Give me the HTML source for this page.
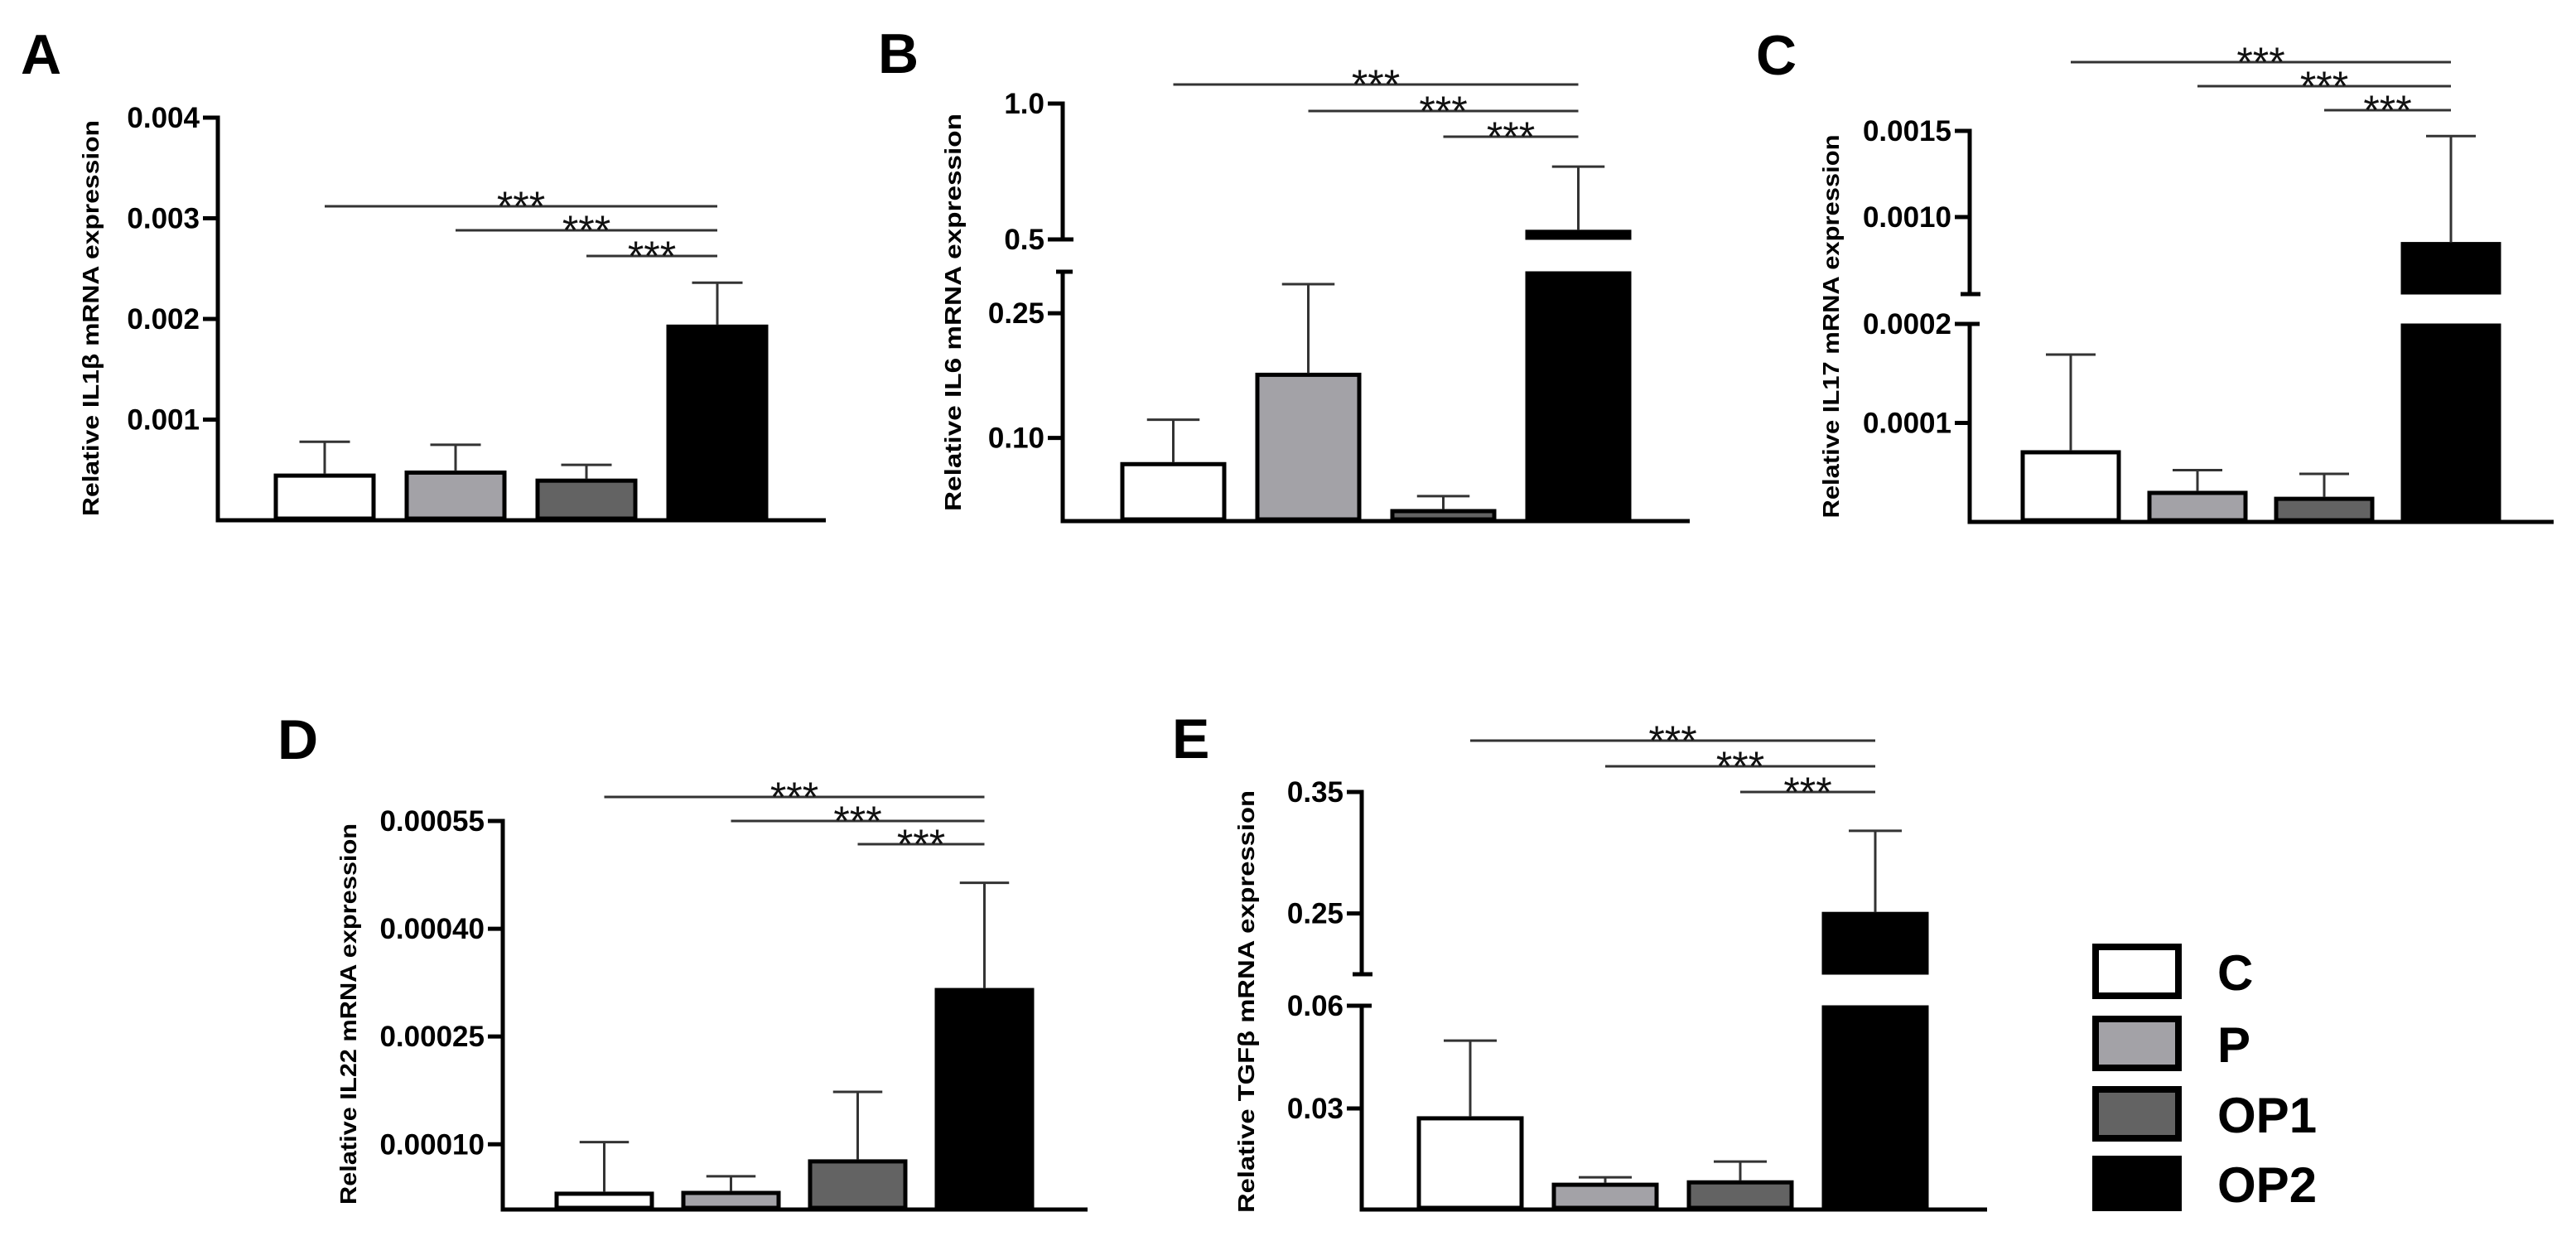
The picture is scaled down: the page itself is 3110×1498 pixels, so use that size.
<!DOCTYPE html>
<html><head><meta charset="utf-8">
<style>
html,body{margin:0;padding:0;background:#fff;}
svg{display:block;font-family:"Liberation Sans",Arial,sans-serif;}
</style></head>
<body>
<svg id="fig" width="3110" height="1498" viewBox="0 0 3110 1498" xmlns="http://www.w3.org/2000/svg">
<rect x="0" y="0" width="3110" height="1498" fill="#fff"/>
</svg>
<script>
// ---- data ----
const categories = ["C", "P", "OP1", "OP2"];
const fills = ["#ffffff", "#a3a2a7", "#636363", "#000000"];

const il1bValues = [0.00046, 0.00049, 0.00041, 0.00194];
const il1bErrors = [0.00032, 0.00026, 0.00014, 0.00042];
const il1bTicks = [0.001, 0.002, 0.003, 0.004];
const il1bTickLabels = ["0.001", "0.002", "0.003", "0.004"];

const il6Values = [0.0705, 0.178, 0.014, 0.534];
const il6Errors = [0.0515, 0.107, 0.016, 0.234];
const il6Ticks = [0.10, 0.25, 0.5, 1.0];
const il6TickLabels = ["0.10", "0.25", "0.5", "1.0"];

const il17Values = [0.000072, 0.000031, 0.000025, 0.000853];
const il17Errors = [0.000097, 0.0000213, 0.0000235, 0.000617];
const il17Ticks = [0.0001, 0.0002, 0.0010, 0.0015];
const il17TickLabels = ["0.0001", "0.0002", "0.0010", "0.0015"];

const il22Values = [0.0000335, 0.0000346, 0.0000785, 0.000317];
const il22Errors = [0.0000695, 0.0000208, 0.0000945, 0.000147];
const il22Ticks = [0.00010, 0.00025, 0.00040, 0.00055];
const il22TickLabels = ["0.00010", "0.00025", "0.00040", "0.00055"];

const tgfbValues = [0.0276, 0.0082, 0.0089, 0.251];
const tgfbErrors = [0.0222, 0.0017, 0.0056, 0.067];
const tgfbTicks = [0.03, 0.06, 0.25, 0.35];
const tgfbTickLabels = ["0.03", "0.06", "0.25", "0.35"];

// ---- layout ----
const NS = "http://www.w3.org/2000/svg";
const svg = document.getElementById("fig");
function mk(tag, attrs, parent) {
  const e = document.createElementNS(NS, tag);
  for (const k in attrs) e.setAttribute(k, attrs[k]);
  (parent || svg).appendChild(e);
  return e;
}

const panels = [
  {id:"a", letter:"A", lx:25, ly:89, title:"Relative IL1\u03b2 mRNA expression", tx:109, ty:384, tlen:478,
   axisX:263, baseY:628, barLeft:331, barW:122, pitch:158, baseEnd:997,
   segs:[{v0:0, v1:0.004, y0:628, y1:142}],
   values:il1bValues, errors:il1bErrors, ticks:il1bTicks, tickLabels:il1bTickLabels, sigY:[249,278,309]},
  {id:"b", letter:"B", lx:1060, ly:88, title:"Relative IL6 mRNA expression", tx:1150, ty:377, tlen:480,
   axisX:1283, baseY:629, barLeft:1353, barW:127, pitch:163, baseEnd:2040,
   segs:[{v0:0, v1:0.3, y0:629, y1:328},{v0:0.5, v1:1.0, y0:289, y1:125}],
   values:il6Values, errors:il6Errors, ticks:il6Ticks, tickLabels:il6TickLabels, sigY:[102,134,165]},
  {id:"c", letter:"C", lx:2120, ly:90, title:"Relative IL17 mRNA expression", tx:2210, ty:394, tlen:463,
   axisX:2378, baseY:630, barLeft:2440, barW:120, pitch:153, baseEnd:3083,
   segs:[{v0:0, v1:0.0002, y0:630, y1:391},{v0:0.000553, v1:0.0015, y0:355, y1:158}],
   values:il17Values, errors:il17Errors, ticks:il17Ticks, tickLabels:il17TickLabels, sigY:[75,104,133]},
  {id:"d", letter:"D", lx:335, ly:916, title:"Relative IL22 mRNA expression", tx:420, ty:1224, tlen:460,
   axisX:607, baseY:1460, barLeft:670, barW:119, pitch:153, baseEnd:1313,
   segs:[{v0:0.0000092, v1:0.00055, y0:1460, y1:991}],
   values:il22Values, errors:il22Errors, ticks:il22Ticks, tickLabels:il22TickLabels, sigY:[962,991,1019]},
  {id:"e", letter:"E", lx:1415, ly:915, title:"Relative TGF\u03b2 mRNA expression", tx:1504, ty:1209, tlen:510,
   axisX:1644, baseY:1460, barLeft:1711, barW:128, pitch:163, baseEnd:2399,
   segs:[{v0:0, v1:0.06, y0:1462, y1:1214},{v0:0.2, v1:0.35, y0:1176, y1:956}],
   values:tgfbValues, errors:tgfbErrors, ticks:tgfbTicks, tickLabels:tgfbTickLabels, sigY:[894,925,956]}
];

function segFor(p, v) {
  let s = p.segs[0];
  for (const sg of p.segs) if (v >= sg.v0) s = sg;
  return s;
}
function yOf(p, v) {
  const s = segFor(p, v);
  return s.y0 + (v - s.v0) / (s.v1 - s.v0) * (s.y1 - s.y0);
}

panels.forEach(p => {
  const g = mk("g", {});
  
  

  const L = mk("text", {x:p.lx, y:p.ly, "font-size":68, "font-weight":"bold", fill:"#000"}, g);
  L.textContent = p.letter;
  
  

  const T = mk("text", {x:0, y:0, "font-size":28, "font-weight":"bold", fill:"#000", "text-anchor":"middle",
    textLength:p.tlen, lengthAdjust:"spacingAndGlyphs",
    transform:"translate(" + (p.tx + 10) + "," + p.ty + ") rotate(-90)"}, g);
  T.textContent = p.title;
  
  

  p.segs.forEach((s, i) => {
    const yb = (i === 0) ? p.baseY : s.y0;
    const ax = mk("line", {x1:p.axisX, x2:p.axisX, y1:yb + 2.5, y2:s.y1 - 2.5, stroke:"#000", "stroke-width":5}, g);
    
    
    if (p.segs.length > 1) {
      if (i === 0) {
        const c = mk("line", {x1:p.axisX - 8, x2:p.axisX + 12, y1:s.y1, y2:s.y1, stroke:"#000", "stroke-width":5}, g);
        
        
      } else {
        const c = mk("line", {x1:p.axisX - 11, x2:p.axisX + 13, y1:s.y0, y2:s.y0, stroke:"#000", "stroke-width":5}, g);
        
        
      }
    }
  });
  const base = mk("line", {x1:p.axisX - 2.5, x2:p.baseEnd, y1:p.baseY, y2:p.baseY, stroke:"#000", "stroke-width":5}, g);
  
  

  p.ticks.forEach((tv, i) => {
    const y = yOf(p, tv);
    const tk = mk("line", {x1:p.axisX - 18, x2:p.axisX, y1:y, y2:y, stroke:"#000", "stroke-width":5}, g);
    
    
    const tl = mk("text", {x:p.axisX - 22, y:y + 12, "font-size":35, "font-weight":"bold", "text-anchor":"end", fill:"#000"}, g);
    tl.textContent = p.tickLabels[i];
    
    
  });

  const centers = [];
  p.values.forEach((v, i) => {
    const x = p.barLeft + i * p.pitch;
    const cx = x + p.barW / 2;
    centers.push(cx);
    p.segs.forEach((s, si) => {
      if (v <= s.v0 && si > 0) return;
      const bottom = (si === 0) ? p.baseY : s.y0;
      const top = yOf(p, Math.min(v, s.v1));
      const r = mk("rect", {x:x + 2, y:top + 2, width:p.barW - 4, height:Math.max(0, bottom - top - 4),
        fill:fills[i], stroke:"#000", "stroke-width":5}, g);
      
      
    });
    const ytop = yOf(p, v);
    const yerr = yOf(p, v + p.errors[i]);
    const el = mk("line", {x1:cx, x2:cx, y1:ytop, y2:yerr, stroke:"#333", "stroke-width":3}, g);
    
    
    const cap = mk("line", {x1:cx - p.barW * 0.25, x2:cx + p.barW * 0.25, y1:yerr, y2:yerr, stroke:"#333", "stroke-width":3}, g);
    
    
  });

  p.sigY.forEach((sy, i) => {
    const x1 = centers[i], x2 = centers[3];
    const ln = mk("line", {x1:x1, x2:x2, y1:sy, y2:sy, stroke:"#333", "stroke-width":3}, g);
    
    
    const st = mk("text", {x:(x1 + x2) / 2, y:sy + 17, "font-size":50, "text-anchor":"middle", fill:"#111"}, g);
    st.textContent = "***";
    
    
  });
});

const lg = mk("g", {});


const legendTops = [1139, 1226, 1311, 1395];
categories.forEach((c, i) => {
  const y = legendTops[i];
  const r = mk("rect", {x:2530, y:y + 4, width:100, height:59, fill:fills[i], stroke:"#000", "stroke-width":8}, lg);
  
  
  const t = mk("text", {x:2677, y:y + 56, "font-size":60, "font-weight":"bold", fill:"#000"}, lg);
  t.textContent = c;
  
  
});
</script>
</body></html>
